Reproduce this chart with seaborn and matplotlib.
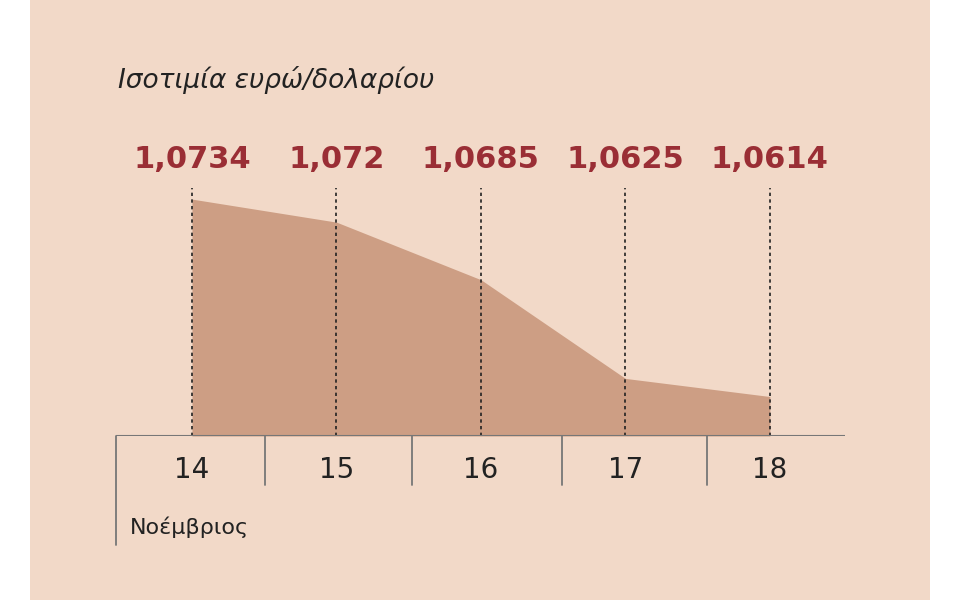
import matplotlib
matplotlib.use("Agg")
import matplotlib.pyplot as plt
import seaborn as sns
import pandas as pd

days = [14, 15, 16, 17, 18]
rates = [1.0734, 1.072, 1.0685, 1.0625, 1.0614]
rate_labels = ["1,0734", "1,072", "1,0685", "1,0625", "1,0614"]
title = "Ισοτιμία ευρώ/δολαρίου"
month = "Νοέμβριος"

bg = "#f2d9c8"
fill = "#cd9e84"
red = "#9a2e35"

sns.set_theme(style="white")
plt.rcParams["font.family"] = ["DejaVu Sans"]

fig = plt.figure(figsize=(9.6, 6), dpi=100)
fig.patch.set_facecolor("white")
fig.patches.append(plt.Rectangle((30 / 960, 0), 900 / 960, 1, transform=fig.transFigure,
                                 facecolor=bg, edgecolor="none", zorder=-10))

ax = fig.add_axes([116 / 960, 1 - 436 / 600, 729 / 960, 306 / 600])
ax.set_facecolor("none")
df = pd.DataFrame({"day": days, "rate": rates})
base = 1.0590
ax.fill_between(df["day"], base, df["rate"], color=fill, linewidth=0)
sns.lineplot(data=df, x="day", y="rate", ax=ax, color=fill, linewidth=0)
ax.set_xlim(13.474, 18.52)
ax.set_ylim(base, 1.0776)

for d, lab in zip(days, rate_labels):
    ax.plot([d, d], [base, 1.0741], color="#222222", linestyle=(0, (2, 2)), linewidth=1.2)
    ax.text(d, 1.0758, lab, ha="center", va="center", fontsize=22, fontweight="bold", color=red)

for s in ax.spines.values():
    s.set_visible(False)
ax.axhline(base, color="#777777", linewidth=1.5)
ax.set_xticks([])
ax.set_yticks([])
ax.set_xlabel("")
ax.set_ylabel("")

# table below axis
for x in [265, 412, 562, 707]:
    fig.add_artist(plt.Line2D([x / 960, x / 960], [1 - 436 / 600, 1 - 485 / 600], color="#777777", linewidth=1.3))
fig.add_artist(plt.Line2D([116 / 960, 116 / 960], [1 - 436 / 600, 1 - 545 / 600], color="#777777", linewidth=1.3))
for d in days:
    ax.text(d, -0.11, str(d), transform=ax.get_xaxis_transform(), ha="center", va="center",
            fontsize=20, color="#222222")
fig.text(130 / 960, 1 - 527 / 600, month, ha="left", va="center", fontsize=16, color="#222222")
fig.text(118 / 960, 1 - 80 / 600, title, ha="left", va="center", fontsize=19, style="italic", color="#222222")

fig.savefig("out.png", dpi=100)
